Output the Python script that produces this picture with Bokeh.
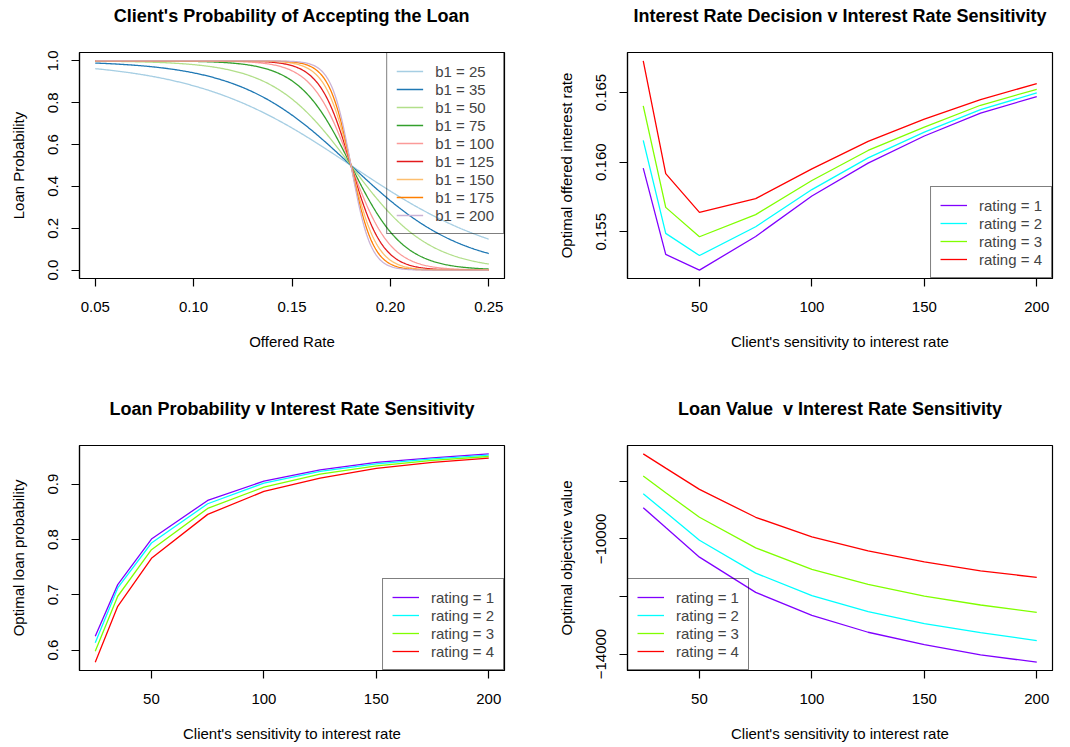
import numpy as np
from bokeh.plotting import figure
from bokeh.models import Range1d, FixedTicker, Legend, LegendItem, PrintfTickFormatter, Title
from bokeh.layouts import column, row
from bokeh.embed import file_html
from bokeh.resources import INLINE

FONT = "Liberation Sans"

# ---- Panel 1: acceptance probability curves, one per sensitivity b1 ----
b1_values = [25, 35, 50, 75, 100, 125, 150, 175, 200]
b1_colors = ["#A6CEE3", "#1F78B4", "#B2DF8A", "#33A02C", "#FB9A99",
             "#E31A1C", "#FDBF6F", "#FF7F00", "#CAB2D6"]
midpoint_rate = 0.18
offered_rate = np.linspace(0.05, 0.25, 401)

# ---- Panels 2-4: optimisation results by sensitivity and rating ----
sensitivity = [25, 35, 50, 75, 100, 125, 150, 175, 200]
rating_labels = ["rating = 1", "rating = 2", "rating = 3", "rating = 4"]
rating_colors = ["#8000FF", "#00FFFF", "#80FF00", "#FF0000"]

opt_rate_r1 = [0.15957, 0.15337, 0.15224, 0.15466, 0.15757, 0.15993, 0.16188, 0.16353, 0.16471]
opt_rate_r2 = [0.16156, 0.15488, 0.15329, 0.15536, 0.15803, 0.16031, 0.16216, 0.16377, 0.16498]
opt_rate_r3 = [0.16404, 0.15675, 0.15464, 0.15623, 0.15868, 0.16084, 0.16252, 0.16409, 0.16524]
opt_rate_r4 = [0.16728, 0.15918, 0.15639, 0.15738, 0.15952, 0.16149, 0.16310, 0.16450, 0.16565]

opt_prob_r1 = [0.6252, 0.7184, 0.8008, 0.8705, 0.9054, 0.9259, 0.9391, 0.9475, 0.9547]
opt_prob_r2 = [0.6132, 0.7124, 0.7936, 0.8645, 0.9018, 0.9229, 0.9367, 0.9457, 0.9523]
opt_prob_r3 = [0.5981, 0.6974, 0.7815, 0.8561, 0.8946, 0.9180, 0.9331, 0.9427, 0.9499]
opt_prob_r4 = [0.5783, 0.6793, 0.7659, 0.8453, 0.8868, 0.9108, 0.9283, 0.9391, 0.9469]

opt_value_r1 = [-8915, -9608, -10635, -11858, -12655, -13243, -13670, -14028, -14282]
opt_value_r2 = [-8430, -9077, -10046, -11189, -11974, -12527, -12943, -13255, -13532]
opt_value_r3 = [-7819, -8396, -9250, -10312, -11062, -11581, -11985, -12297, -12551]
opt_value_r4 = [-7046, -7542, -8280, -9250, -9931, -10415, -10796, -11108, -11339]

TOP_H, BOTTOM_H, COL_W = 393, 354, 535


def padded(values):
    lo, hi = min(values), max(values)
    pad = 0.04 * (hi - lo)
    return Range1d(lo - pad, hi + pad)


def base_figure(height, left, right, bottom, x_range, y_range, title, xlabel, ylabel):
    p = figure(width=COL_W, height=height, x_range=x_range, y_range=y_range,
               output_backend="svg", toolbar_location=None,
               min_border_left=left, min_border_right=right,
               min_border_top=52, min_border_bottom=bottom,
               background_fill_color="white", border_fill_color="white")
    p.grid.visible = False
    p.outline_line_color = "black"
    p.outline_line_width = 1.2

    # a thin spacer panel keeps the heading clear of the frame
    p.add_layout(Title(text=" ", text_font_size="1px", standoff=24), "above")
    p.add_layout(Title(text=title, align="center", text_font=FONT, text_font_size="18px",
                       text_font_style="bold", text_color="black", standoff=0), "above")

    for ax in (p.xaxis[0], p.yaxis[0]):
        ax.axis_line_color = "black"
        ax.axis_line_width = 1.2
        ax.major_tick_out = 8
        ax.major_tick_in = 0
        ax.minor_tick_out = 0
        ax.minor_tick_in = 0
        ax.major_tick_line_color = "black"
        ax.major_tick_line_width = 1.2
        ax.major_label_text_font = FONT
        ax.major_label_text_font_size = "15px"
        ax.major_label_text_color = "black"
        ax.axis_label_text_font = FONT
        ax.axis_label_text_font_size = "15px"
        ax.axis_label_text_font_style = "normal"
        ax.axis_label_text_color = "black"

    p.xaxis.axis_label = xlabel
    p.yaxis.axis_label = ylabel
    p.xaxis.major_label_standoff = 15
    p.xaxis.axis_label_standoff = 18
    p.yaxis.major_label_standoff = 13
    p.yaxis.axis_label_standoff = 19
    p.yaxis.major_label_orientation = "vertical"
    return p


def add_legend(p, renderers, labels, location):
    legend = Legend(items=[LegendItem(label=l, renderers=[r]) for l, r in zip(labels, renderers)],
                    location=location, margin=0, padding=9, spacing=0,
                    glyph_width=27, glyph_height=18, label_height=18, label_standoff=12,
                    label_text_font=FONT, label_text_font_size="15px",
                    border_line_color="black", border_line_width=1.3,
                    background_fill_alpha=0.0)
    p.add_layout(legend)


# Panel 1
p1 = base_figure(TOP_H, 79, 31, TOP_H - 278,
                 Range1d(0.042, 0.258), Range1d(-0.04, 1.04),
                 "Client's Probability of Accepting the Loan", "Offered Rate", "Loan Probability")
p1.xaxis.ticker = FixedTicker(ticks=[0.05, 0.10, 0.15, 0.20, 0.25])
p1.xaxis.formatter = PrintfTickFormatter(format="%.2f")
p1.yaxis.ticker = FixedTicker(ticks=[0.0, 0.2, 0.4, 0.6, 0.8, 1.0])
p1.yaxis.formatter = PrintfTickFormatter(format="%.1f")
curves = []
for b1, color in zip(b1_values, b1_colors):
    prob = 1.0 / (1.0 + np.exp(b1 * (offered_rate - midpoint_rate)))
    curves.append(p1.line(offered_rate, prob, line_color=color, line_width=1.3))
add_legend(p1, curves, [f"b1 = {b}" for b in b1_values], "top_right")

# Panel 2
rates = [opt_rate_r1, opt_rate_r2, opt_rate_r3, opt_rate_r4]
p2 = base_figure(TOP_H, 92, 18, TOP_H - 278,
                 padded(sensitivity), padded(sum(rates, [])),
                 "Interest Rate Decision v Interest Rate Sensitivity",
                 "Client's sensitivity to interest rate", "Optimal offered interest rate")
p2.xaxis.ticker = FixedTicker(ticks=[50, 100, 150, 200])
p2.xaxis.formatter = PrintfTickFormatter(format="%d")
p2.yaxis.ticker = FixedTicker(ticks=[0.155, 0.160, 0.165])
p2.yaxis.formatter = PrintfTickFormatter(format="%.3f")
r2 = [p2.line(sensitivity, ys, line_color=c, line_width=1.3) for ys, c in zip(rates, rating_colors)]
add_legend(p2, r2, rating_labels, "bottom_right")

# Panel 3
probs = [opt_prob_r1, opt_prob_r2, opt_prob_r3, opt_prob_r4]
p3 = base_figure(BOTTOM_H, 79, 31, BOTTOM_H - 277,
                 padded(sensitivity), padded(sum(probs, [])),
                 "Loan Probability v Interest Rate Sensitivity",
                 "Client's sensitivity to interest rate", "Optimal loan probability")
p3.xaxis.ticker = FixedTicker(ticks=[50, 100, 150, 200])
p3.xaxis.formatter = PrintfTickFormatter(format="%d")
p3.yaxis.ticker = FixedTicker(ticks=[0.6, 0.7, 0.8, 0.9])
p3.yaxis.formatter = PrintfTickFormatter(format="%.1f")
r3 = [p3.line(sensitivity, ys, line_color=c, line_width=1.3) for ys, c in zip(probs, rating_colors)]
add_legend(p3, r3, rating_labels, "bottom_right")

# Panel 4
values = [opt_value_r1, opt_value_r2, opt_value_r3, opt_value_r4]
p4 = base_figure(BOTTOM_H, 92, 18, BOTTOM_H - 277,
                 padded(sensitivity), padded(sum(values, [])),
                 "Loan Value\u00a0 v Interest Rate Sensitivity",
                 "Client's sensitivity to interest rate", "Optimal objective value")
p4.xaxis.ticker = FixedTicker(ticks=[50, 100, 150, 200])
p4.xaxis.formatter = PrintfTickFormatter(format="%d")
p4.yaxis.ticker = FixedTicker(ticks=[-14000, -12000, -10000, -8000])
p4.yaxis.major_label_overrides = {-14000: "\u221214000", -12000: "",
                                  -10000: "\u221210000", -8000: ""}
r4 = [p4.line(sensitivity, ys, line_color=c, line_width=1.3) for ys, c in zip(values, rating_colors)]
add_legend(p4, r4, rating_labels, "bottom_left")

layout = column(row(p1, p2, spacing=0), row(p3, p4, spacing=0), spacing=0)

with open("out.html", "w") as f:
    f.write(file_html(layout, INLINE))
